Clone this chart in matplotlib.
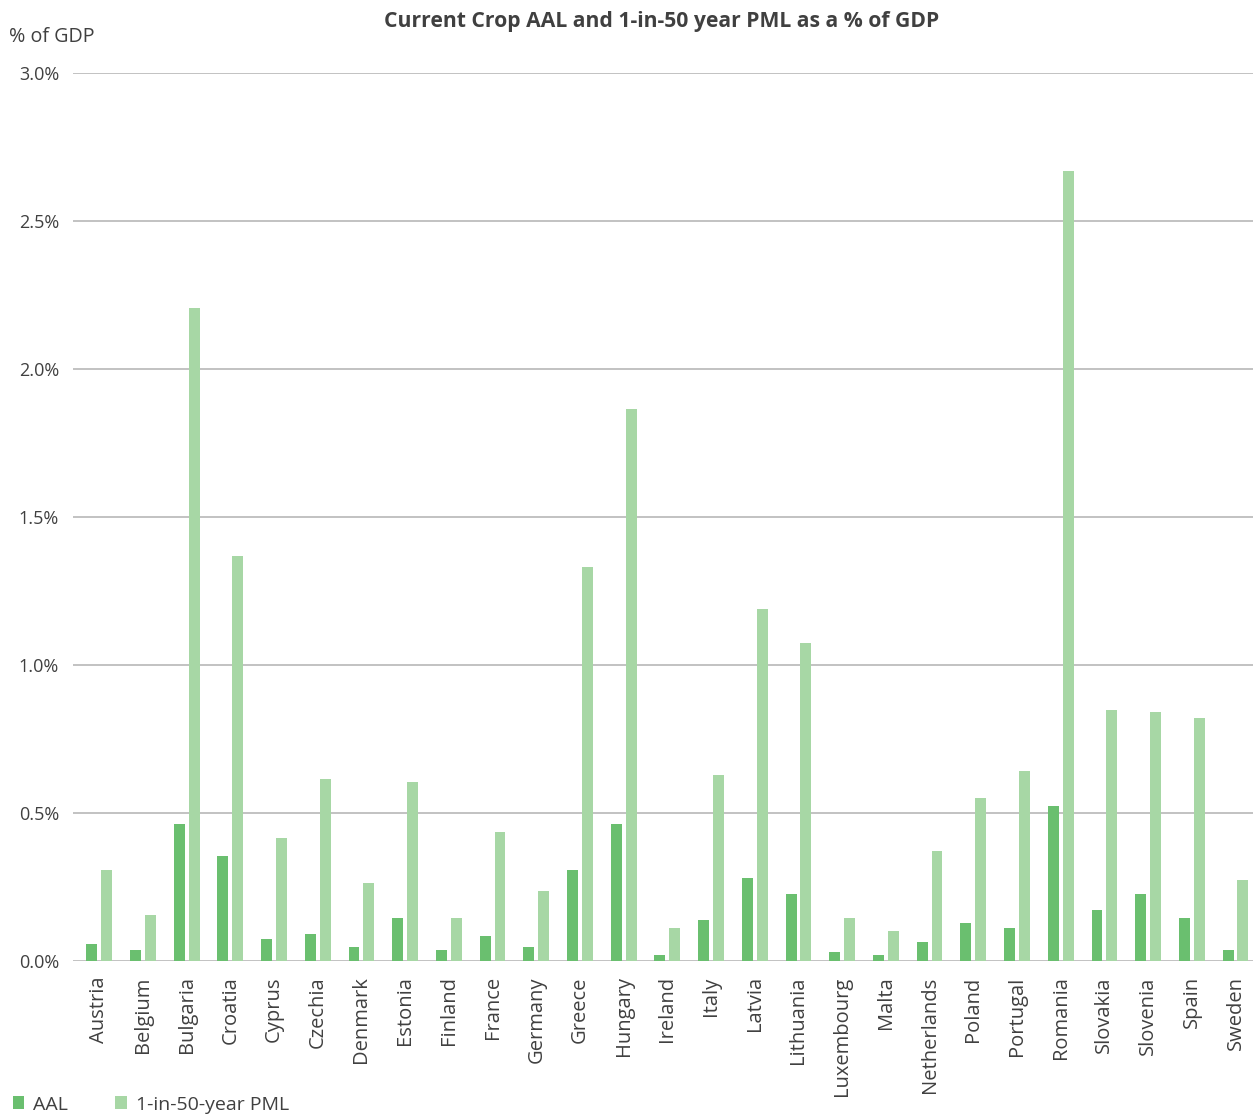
import matplotlib
matplotlib.use("Agg")
import matplotlib.pyplot as plt
import numpy as np

countries = ["Austria", "Belgium", "Bulgaria", "Croatia", "Cyprus", "Czechia", "Denmark",
             "Estonia", "Finland", "France", "Germany", "Greece", "Hungary", "Ireland",
             "Italy", "Latvia", "Lithuania", "Luxembourg", "Malta", "Netherlands", "Poland",
             "Portugal", "Romania", "Slovakia", "Slovenia", "Spain", "Sweden"]
aal = [0.057, 0.037, 0.462, 0.354, 0.074, 0.091, 0.047, 0.145, 0.037, 0.084, 0.047,
       0.307, 0.462, 0.020, 0.138, 0.280, 0.226, 0.030, 0.020, 0.064, 0.128, 0.111,
       0.523, 0.172, 0.226, 0.145, 0.037]
pml = [0.307, 0.155, 2.205, 1.369, 0.415, 0.614, 0.263, 0.604, 0.145, 0.435, 0.236,
       1.332, 1.866, 0.111, 0.630, 1.190, 1.074, 0.145, 0.101, 0.371, 0.550, 0.642,
       2.670, 0.847, 0.841, 0.820, 0.273]
yticks = [0.0, 0.5, 1.0, 1.5, 2.0, 2.5, 3.0]

plt.rcParams['font.family'] = ['Open Sans', 'DejaVu Sans']
TXT = "#404040"
C_AAL = "#6ABF6F"
C_PML = "#A7D7A5"

fig = plt.figure(figsize=(12.53, 11.15), dpi=100)
ax = fig.add_axes([73/1253, 1 - 961/1115, 1 - 73/1253, (961 - 73)/1115])

x = np.arange(len(countries))
w = 0.25
b1 = ax.bar(x - 0.17, aal, width=w, color=C_AAL, label="AAL", zorder=3)
b2 = ax.bar(x + 0.17, pml, width=w, color=C_PML, label="1-in-50-year PML", zorder=3)

ax.set_xlim(-0.6, len(countries) - 0.6)
ax.set_ylim(0, 3.0)
ax.set_yticks(yticks)
ax.set_yticklabels([f"{v:.1f}%" for v in yticks], fontsize=13, color=TXT)
ax.set_xticks(x)
ax.set_xticklabels(countries, rotation=90, fontsize=14.5, color=TXT)
ax.tick_params(axis='both', length=0)
ax.tick_params(axis='y', pad=10)
ax.tick_params(axis='x', pad=11)
for s in ax.spines.values():
    s.set_visible(False)
ax.yaxis.grid(True, color="#BDBDBD", linewidth=1.3, zorder=0)
ax.set_axisbelow(True)

fig.text(662/1253, 1 - 22/1115, "Current Crop AAL and 1-in-50 year PML as a % of GDP",
         ha="center", va="center", fontsize=15.2, fontweight="bold", color=TXT)
fig.text(9/1253, 1 - 37/1115, "% of GDP", ha="left", va="center", fontsize=14.2, color=TXT)

leg = fig.legend(handles=[b1, b2], labels=["AAL", "1-in-50-year PML"], loc="lower left",
                 bbox_to_anchor=(-5/1253, -16/1115), ncol=2, frameon=False, fontsize=14.0,
                 handlelength=0.6, handleheight=0.6, handletextpad=0.45, columnspacing=2.45,
                 labelcolor=TXT)

fig.savefig("out.png", dpi=100)
